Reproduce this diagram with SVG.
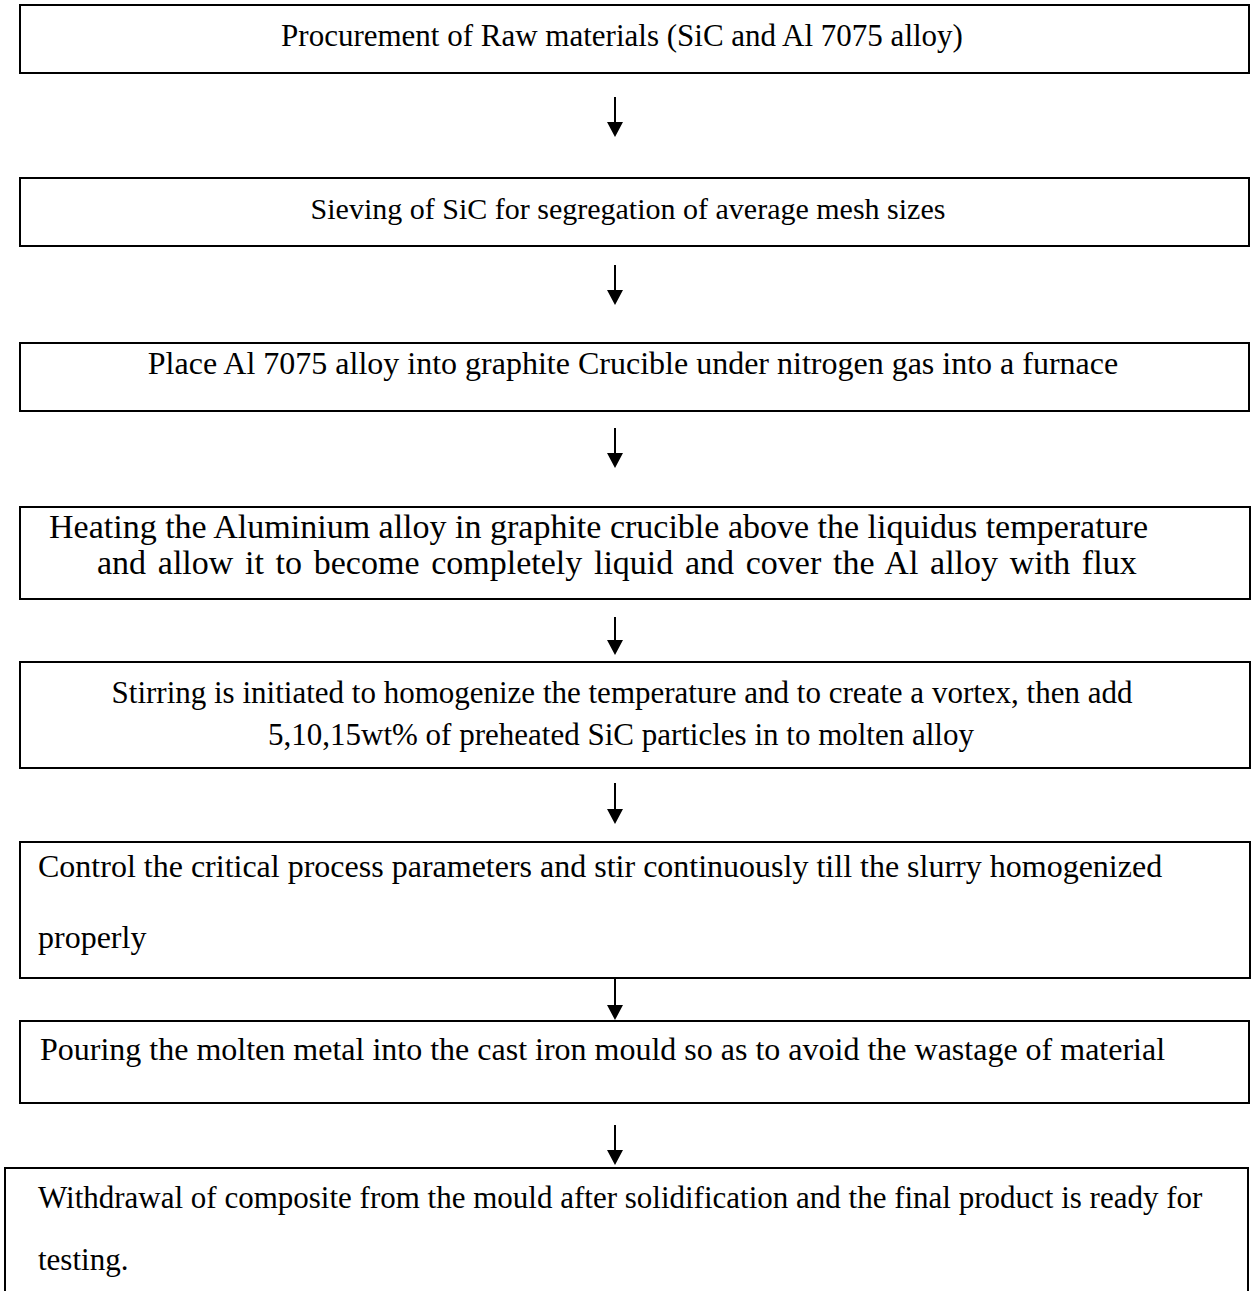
<svg xmlns="http://www.w3.org/2000/svg" width="1251" height="1291" viewBox="0 0 1251 1291">
  <style>
    .box { fill: #ffffff; stroke: #000000; stroke-width: 2; }
    .lbl { font-family: "Liberation Serif", "Times New Roman", serif; font-size: 31px; fill: #000000; }
    .mid { text-anchor: middle; }
    .shaft { stroke: #000000; stroke-width: 2; fill: none; }
    .tip { fill: #000000; stroke: none; }
  </style>
  <defs>
    <!-- downward arrowhead, tip at (0,0) -->
    <polygon id="head" points="-8,-15 8,-15 0,0"/>
  </defs>
  <rect width="1251" height="1291" fill="#ffffff"/>

  <g id="step1">
    <rect class="box" x="20" y="5" width="1229" height="68"/>
    <text class="lbl mid" x="622" y="46">Procurement of Raw materials (SiC and Al 7075 alloy)</text>
  </g>
  <g id="step2">
    <rect class="box" x="20" y="178" width="1229" height="68"/>
    <text class="lbl mid" x="628" y="219" style="font-size:30px">Sieving of SiC for segregation of average mesh sizes</text>
  </g>
  <g id="step3">
    <rect class="box" x="20" y="343" width="1229" height="68"/>
    <text class="lbl mid" x="633" y="374" style="font-size:32px">Place Al 7075 alloy into graphite Crucible under nitrogen gas into a furnace</text>
  </g>
  <g id="step4">
    <rect class="box" x="20" y="507" width="1230" height="92"/>
    <text class="lbl" x="49" y="538" style="font-size:34px">Heating the Aluminium alloy in graphite crucible above the liquidus temperature</text>
    <text class="lbl" x="97" y="574" style="font-size:34px;word-spacing:3.2px">and allow it to become completely liquid and cover the Al alloy with flux</text>
  </g>
  <g id="step5">
    <rect class="box" x="20" y="662" width="1230" height="106"/>
    <text class="lbl mid" x="622" y="703">Stirring is initiated to homogenize the temperature and to create a vortex, then add</text>
    <text class="lbl mid" x="621" y="745">5,10,15wt% of preheated SiC particles in to molten alloy</text>
  </g>
  <g id="step6">
    <rect class="box" x="20" y="842" width="1230" height="136"/>
    <text class="lbl" x="38" y="877" style="font-size:32px">Control the critical process parameters and stir continuously till the slurry homogenized</text>
    <text class="lbl" x="38" y="948" style="font-size:32px">properly</text>
  </g>
  <g id="step7">
    <rect class="box" x="20" y="1021" width="1229" height="82"/>
    <text class="lbl" x="40" y="1060" style="font-size:32px">Pouring the molten metal into the cast iron mould so as to avoid the wastage of material</text>
  </g>
  <g id="step8">
    <rect class="box" x="5" y="1168" width="1243" height="140"/>
    <text class="lbl" x="38" y="1208">Withdrawal of composite from the mould after solidification and the final product is ready for</text>
    <text class="lbl" x="38" y="1270">testing.</text>
  </g>

  <g id="connectors">
    <line class="shaft" x1="615" y1="97" x2="615" y2="124"/>
    <use href="#head" class="tip" x="615" y="137"/>
    <line class="shaft" x1="615" y1="265" x2="615" y2="292"/>
    <use href="#head" class="tip" x="615" y="305"/>
    <line class="shaft" x1="615" y1="428" x2="615" y2="455"/>
    <use href="#head" class="tip" x="615" y="468"/>
    <line class="shaft" x1="615" y1="617" x2="615" y2="642"/>
    <use href="#head" class="tip" x="615" y="655"/>
    <line class="shaft" x1="615" y1="783" x2="615" y2="811"/>
    <use href="#head" class="tip" x="615" y="824"/>
    <line class="shaft" x1="615" y1="978" x2="615" y2="1007"/>
    <use href="#head" class="tip" x="615" y="1020"/>
    <line class="shaft" x1="615" y1="1125" x2="615" y2="1152"/>
    <use href="#head" class="tip" x="615" y="1165"/>
  </g>
</svg>
